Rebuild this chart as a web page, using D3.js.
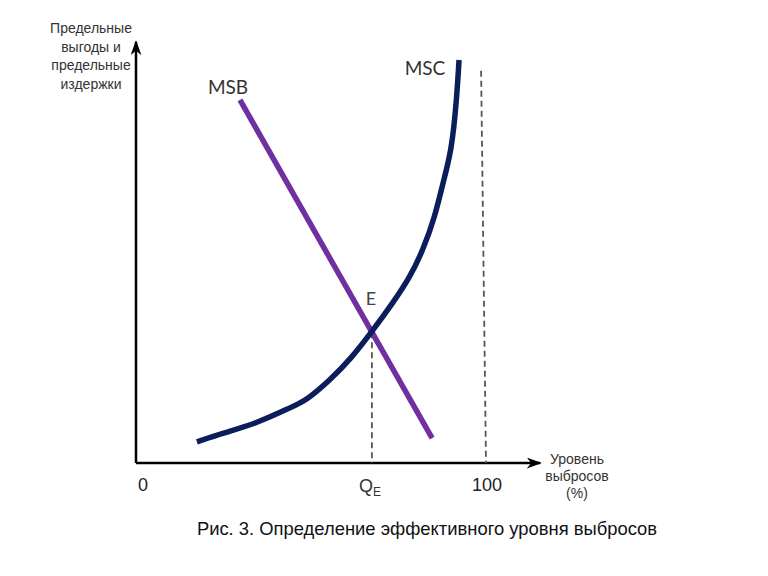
<!DOCTYPE html>
<html><head><meta charset="utf-8">
<script src="https://cdn.jsdelivr.net/npm/d3@7"></script>
<style>body{margin:0;background:#fff}svg{display:block}</style>
</head><body>
<script>
// Data (in chart units: x = emission level %, y = marginal benefit/cost)
const mscX = [17.4, 24.9, 34.6, 44.0, 48.9, 55.4, 61.1, 67.7, 73.4, 78.3, 82.0, 85.4, 87.7, 90.2, 91.6, 92.3];
const mscY = [5.1, 7.2, 9.6, 13.3, 15.2, 20.0, 24.8, 32.0, 38.6, 44.8, 51.3, 59.3, 67.5, 75.4, 87.5, 97.1];
const msbX = [29.7, 84.6];
const msbY = [87.5, 6.0];
const qE = 67.4;
const qMax = 100;
const eqY = 31.5;
const maxTopY = 94.5;
const yAxisLabel = ["Предельные", "выгоды и", "предельные", "издержки"];
const xAxisLabel = ["Уровень", "выбросов", "(%)"];
const caption = "Рис. 3. Определение эффективного уровня выбросов";

const W = 768, H = 576;
const svg = d3.select("body").append("svg").attr("width", W).attr("height", H);
const x = d3.scaleLinear().domain([0, 100]).range([136, 486]);
const y = d3.scaleLinear().domain([0, 100]).range([463, 48]);

svg.append("defs").append("marker").attr("id","arr").attr("viewBox","0 0 10 10")
  .attr("refX",9).attr("refY",5).attr("markerWidth",15).attr("markerHeight",11)
  .attr("orient","auto-start-reverse").attr("markerUnits","userSpaceOnUse")
  .attr("preserveAspectRatio","none")
  .append("path").attr("d","M0,0 L10,5 L0,10 L3,5 Z").attr("fill","#000");

// axes
svg.append("line").attr("x1",x(0)).attr("y1",y(0)).attr("x2",x(0)).attr("y2",y(101.5))
  .attr("stroke","#000").attr("stroke-width",2.5).attr("marker-end","url(#arr)");
svg.append("line").attr("x1",x(0)).attr("y1",y(0)).attr("x2",x(115.5)).attr("y2",y(0))
  .attr("stroke","#000").attr("stroke-width",2.5).attr("marker-end","url(#arr)");

// dashed lines
svg.append("line").attr("x1",x(qE)).attr("x2",x(qE)).attr("y1",y(eqY)).attr("y2",y(0))
  .attr("stroke","#555").attr("stroke-width",1.8).attr("stroke-dasharray","6,4");
svg.append("line").attr("x1",x(98.6)).attr("x2",x(qMax)).attr("y1",y(maxTopY)).attr("y2",y(0))
  .attr("stroke","#555").attr("stroke-width",1.8).attr("stroke-dasharray","6,4");

// MSB
const msb = msbX.map((d,i)=>[d,msbY[i]]);
svg.append("path").datum(msb)
  .attr("d", d3.line().x(d=>x(d[0])).y(d=>y(d[1])))
  .attr("stroke","#7030a0").attr("stroke-width",5.5).attr("fill","none");

// MSC
const msc = mscX.map((d,i)=>[d,mscY[i]]);
svg.append("path").datum(msc)
  .attr("d", d3.line().x(d=>x(d[0])).y(d=>y(d[1])).curve(d3.curveBasis))
  .attr("stroke","#0b1e5b").attr("stroke-width",5.5).attr("fill","none");

const geo = "Lato, 'Noto Sans', sans-serif";
const arial = "'Liberation Sans', Arial, sans-serif";
svg.append("text").attr("x",425).attr("y",75).attr("text-anchor","middle")
  .attr("font-family",geo).attr("font-size",19).attr("fill","#333").text("MSC");
svg.append("text").attr("x",228).attr("y",94).attr("text-anchor","middle")
  .attr("font-family",geo).attr("font-size",19).attr("fill","#333").text("MSB");
svg.append("text").attr("x",371).attr("y",305).attr("text-anchor","middle")
  .attr("font-family",geo).attr("font-size",18).attr("fill","#444").text("E");

svg.append("text").attr("x",143).attr("y",491).attr("text-anchor","middle")
  .attr("font-family",arial).attr("font-size",18).attr("fill","#222").text("0");
svg.append("text").attr("x",487).attr("y",491).attr("text-anchor","middle")
  .attr("font-family",arial).attr("font-size",18).attr("fill","#222").text("100");
const qt = svg.append("text").attr("x",x(qE)-2).attr("y",492).attr("text-anchor","middle")
  .attr("font-family",arial).attr("font-size",18).attr("fill","#333");
qt.append("tspan").text("Q");
qt.append("tspan").attr("font-size",12).attr("dy",4).text("E");

svg.append("text").attr("text-anchor","middle").attr("font-family",arial)
  .attr("font-size",14).attr("fill","#333")
  .selectAll("tspan").data(yAxisLabel).join("tspan")
  .attr("x",91).attr("y",(d,i)=>33+i*18.7).text(d=>d);

svg.append("text").attr("text-anchor","middle").attr("font-family",arial)
  .attr("font-size",14).attr("fill","#333")
  .selectAll("tspan").data(xAxisLabel).join("tspan")
  .attr("x",577).attr("y",(d,i)=>464+i*17).text(d=>d);

svg.append("text").attr("x",427).attr("y",535).attr("text-anchor","middle")
  .attr("font-family",arial).attr("font-size",18.4).attr("fill","#111").text(caption);
</script>
</body></html>
